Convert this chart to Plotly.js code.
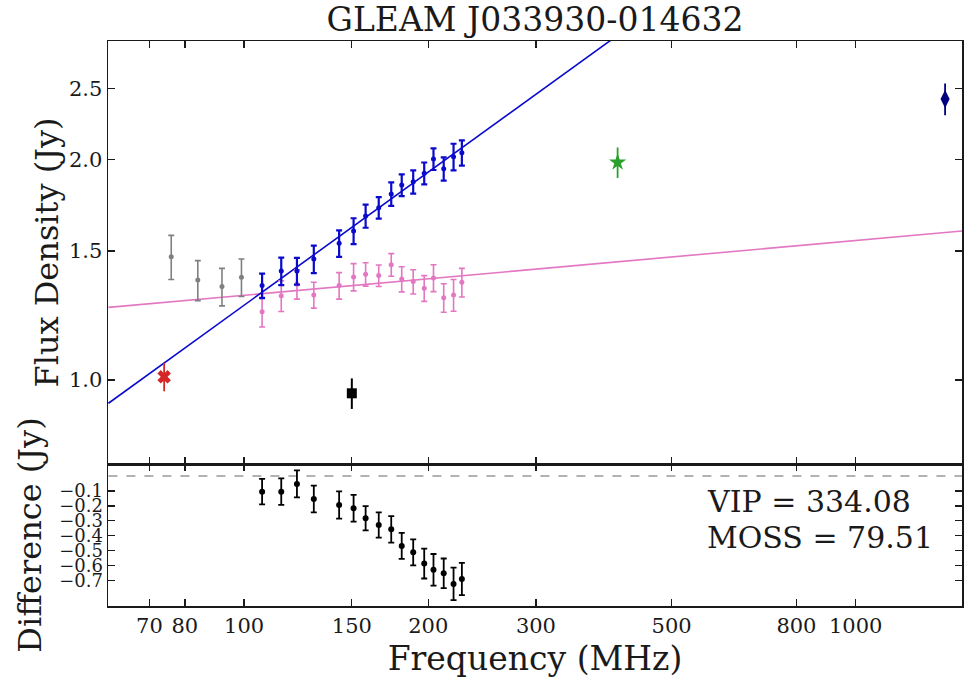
<!DOCTYPE html>
<html>
<head>
<meta charset="utf-8">
<script src="https://cdn.plot.ly/plotly-3.0.1.min.js"></script>
<style>html,body{margin:0;padding:0;background:#fff;}#chart{width:967px;height:681px;}</style>
</head>
<body>
<div id="chart"></div>
<script>
// ---- data ----
const chartTitle = "GLEAM J033930-014632";

// GLEAM sub-band frequencies (MHz)
const freqLow = [76, 84, 92, 99];
const fluxLow = [1.473, 1.369, 1.341, 1.381];
const errLow  = [0.102, 0.086, 0.079, 0.081];

const freqBand = [107, 115, 122, 130, 143, 151, 158, 166, 174, 181, 189, 197, 204, 212, 220, 227];
const fluxBlue = [1.345, 1.408, 1.408, 1.462, 1.536, 1.597, 1.674, 1.718, 1.794, 1.845, 1.864, 1.914, 2.002, 1.941, 2.016, 2.042];
const errBlue  = [0.052, 0.061, 0.059, 0.063, 0.064, 0.065, 0.061, 0.058, 0.066, 0.063, 0.068, 0.066, 0.068, 0.071, 0.084, 0.081];
const fluxPink = [1.239, 1.303, 1.351, 1.306, 1.345, 1.382, 1.394, 1.388, 1.436, 1.373, 1.362, 1.334, 1.378, 1.295, 1.306, 1.359];
const errPink  = [0.058, 0.063, 0.062, 0.053, 0.056, 0.059, 0.051, 0.047, 0.051, 0.054, 0.052, 0.054, 0.058, 0.058, 0.065, 0.061];

// Difference panel
const diffVals = [-0.105, -0.105, -0.053, -0.154, -0.194, -0.216, -0.283, -0.328, -0.357, -0.468, -0.511, -0.586, -0.628, -0.651, -0.722, -0.689];
const diffErr  = [0.085, 0.089, 0.090, 0.089, 0.091, 0.089, 0.081, 0.084, 0.089, 0.087, 0.087, 0.100, 0.106, 0.099, 0.109, 0.108];

// Other surveys
const vlssFreq = [74],   vlssFlux = [1.010], vlssErr = [0.045];
const tgssFreq = [150],  tgssFlux = [0.959], tgssErr = [0.046];
const mrcFreq  = [408],  mrcFlux  = [1.981], mrcErr  = [0.095];
const nvssFreq = [1400], nvssFlux = [2.417], nvssErr = [0.120];

// Power-law fits: S = norm * (nu / 150 MHz)^alpha
const fitRefFreq = 150;
const blueFit = {norm: 1.615, alpha: 0.603};
const pinkFit = {norm: 1.345, alpha: 0.0747};
const fitFreqs = [60, 1500];

// Axis ticks
const xTickVals = [70, 80, 100, 150, 200, 300, 500, 800, 1000];
const xTickText = ["70", "80", "100", "150", "200", "300", "500", "800", "1000"];
const yTickVals = [1.0, 1.5, 2.0, 2.5];
const yTickText = ["1.0", "1.5", "2.0", "2.5"];
const dTickVals = [-0.1, -0.2, -0.3, -0.4, -0.5, -0.6, -0.7];
const dTickText = ["\u22120.1", "\u22120.2", "\u22120.3", "\u22120.4", "\u22120.5", "\u22120.6", "\u22120.7"];
const statLines = ["VIP = 334.08", "MOSS = 79.51"];

// ---- styles ----
const FONT = "DejaVu Serif, Liberation Serif, serif";
const INK = "#1a1a1a";
const BLUE = "#0a0acc";
const PINK = "#e377c2";
const GRAY = "#808080";

const model = (f, p) => f.map(v => p.norm * Math.pow(v / fitRefFreq, p.alpha));

const traces = [
  {x: fitFreqs, y: model(fitFreqs, pinkFit), mode: "lines", line: {color: PINK, width: 1.6}, xaxis: "x", yaxis: "y", hoverinfo: "skip"},
  {x: fitFreqs, y: model(fitFreqs, blueFit), mode: "lines", line: {color: BLUE, width: 1.6}, xaxis: "x", yaxis: "y", hoverinfo: "skip"},
  {x: freqLow, y: fluxLow, mode: "markers", marker: {color: GRAY, size: 5},
   error_y: {type: "data", array: errLow, color: GRAY, thickness: 1.6, width: 3}, xaxis: "x", yaxis: "y"},
  {x: freqBand, y: fluxPink, mode: "markers", marker: {color: PINK, size: 5},
   error_y: {type: "data", array: errPink, color: PINK, thickness: 1.6, width: 3}, xaxis: "x", yaxis: "y"},
  {x: freqBand, y: fluxBlue, mode: "markers", marker: {color: BLUE, size: 5},
   error_y: {type: "data", array: errBlue, color: BLUE, thickness: 2.2, width: 3}, xaxis: "x", yaxis: "y"},
  {x: vlssFreq, y: vlssFlux, mode: "markers", marker: {color: "#d62728", size: 12, symbol: "x"},
   error_y: {type: "data", array: vlssErr, color: "#d62728", thickness: 1.8, width: 0}, xaxis: "x", yaxis: "y"},
  {x: tgssFreq, y: tgssFlux, mode: "markers", marker: {color: "#000000", size: 10, symbol: "square"},
   error_y: {type: "data", array: tgssErr, color: "#000000", thickness: 2, width: 0}, xaxis: "x", yaxis: "y"},
  {x: mrcFreq, y: mrcFlux, mode: "markers", marker: {color: "#2ca02c", size: 13, symbol: "star"},
   error_y: {type: "data", array: mrcErr, color: "#2ca02c", thickness: 1.8, width: 0}, xaxis: "x", yaxis: "y"},
  {x: nvssFreq, y: nvssFlux, mode: "markers", marker: {color: "#000080", size: 13, symbol: "diamond-tall"},
   error_y: {type: "data", array: nvssErr, color: "#000080", thickness: 1.8, width: 0}, xaxis: "x", yaxis: "y"},
  {x: fitFreqs, y: fitFreqs.map(() => 0), mode: "lines", line: {color: "#999999", width: 1.6, dash: "dash"}, xaxis: "x2", yaxis: "y2", hoverinfo: "skip"},
  {x: freqBand, y: diffVals, mode: "markers", marker: {color: "#000000", size: 6},
   error_y: {type: "data", array: diffErr, color: "#000000", thickness: 1.8, width: 3}, xaxis: "x2", yaxis: "y2"}
];

const xRange = [Math.log10(59.9), Math.log10(1492)];
const axisCommon = {
  showline: true, mirror: "ticks", linecolor: INK, linewidth: 1.5,
  ticks: "inside", ticklen: 7, tickwidth: 1.3, tickcolor: INK,
  showgrid: false, zeroline: false,
  tickfont: {family: FONT, size: 21, color: INK}
};

const layout = {
  width: 967, height: 681,
  paper_bgcolor: "#ffffff", plot_bgcolor: "#ffffff",
  showlegend: false,
  margin: {l: 108, r: 5, t: 41, b: 75},
  title: {text: chartTitle, font: {family: FONT, size: 33, color: INK},
          x: 0.5, xref: "paper", xanchor: "center", y: 0.972, yref: "container", yanchor: "middle"},
  xaxis: Object.assign({}, axisCommon, {
    type: "log", range: xRange, domain: [0, 1], anchor: "y",
    tickvals: xTickVals, ticktext: xTickText, showticklabels: false, matches: "x2"
  }),
  yaxis: Object.assign({}, axisCommon, {
    type: "log", range: [Math.log10(0.768), Math.log10(2.9)], domain: [0.2513, 1], anchor: "x",
    tickvals: yTickVals, ticktext: yTickText,
    title: {text: "Flux Density (Jy)", font: {family: FONT, size: 32, color: INK}, standoff: 0}
  }),
  xaxis2: Object.assign({}, axisCommon, {
    type: "log", range: xRange, domain: [0, 1], anchor: "y2",
    tickvals: xTickVals, ticktext: xTickText,
    title: {text: "Frequency (MHz)", font: {family: FONT, size: 33, color: INK}, standoff: 10}
  }),
  yaxis2: Object.assign({}, axisCommon, {
    range: [-0.87, 0.08], domain: [0, 0.2513], anchor: "x2",
    tickvals: dTickVals, ticktext: dTickText,
    tickfont: {family: FONT, size: 18, color: INK},
    title: {text: "Difference (Jy)", font: {family: FONT, size: 32, color: INK}, standoff: 8}
  }),
  annotations: [
    {text: statLines[0], xref: "paper", yref: "paper", x: 0.6985, y: 0.1858, xanchor: "left", yanchor: "middle",
     showarrow: false, font: {family: FONT, size: 30, color: INK}},
    {text: statLines[1], xref: "paper", yref: "paper", x: 0.6985, y: 0.1221, xanchor: "left", yanchor: "middle",
     showarrow: false, font: {family: FONT, size: 30, color: INK}}
  ]
};

Plotly.newPlot("chart", traces, layout, {staticPlot: true, displayModeBar: false});
</script>
</body>
</html>
